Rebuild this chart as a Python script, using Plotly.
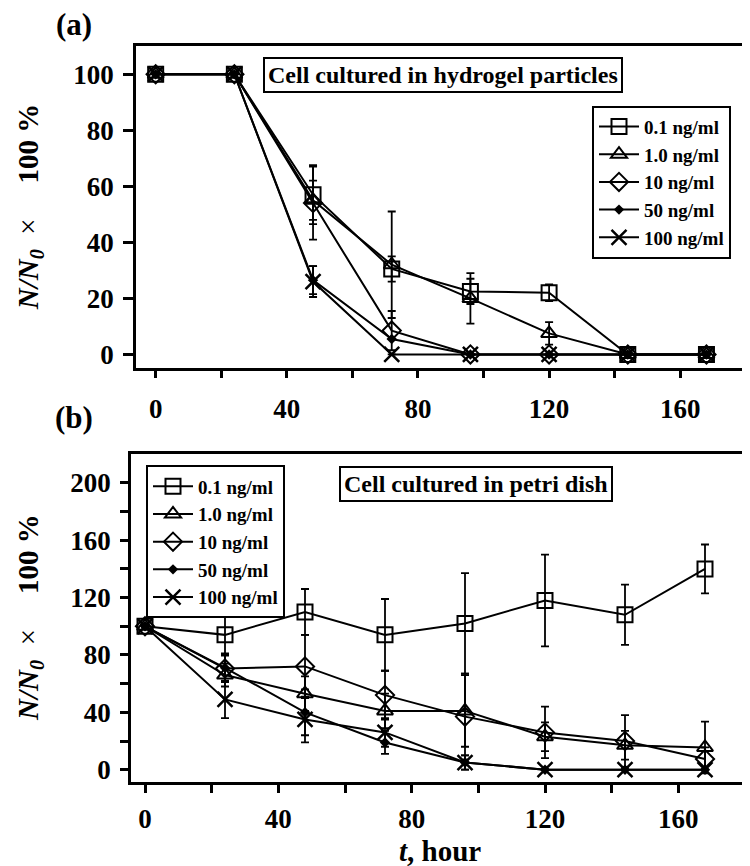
import plotly.graph_objects as go

# ---------------- data ----------------
hours = [0, 24, 48, 72, 96, 120, 144, 168]
series_names = ["0.1 ng/ml", "1.0 ng/ml", "10 ng/ml", "50 ng/ml", "100 ng/ml"]

# (a) Cell cultured in hydrogel particles
a_01 = [100, 100, 57, 30.5, 22.5, 22, 0, 0]
a_01_err = [0, 0, 10.5, 4.5, 4.5, 3, 0, 0]
a_10 = [100, 100, 55, 32, 20, 7.5, 0, 0]
a_10_err = [0, 0, 7, 19, 9, 4, 0, 0]
a_100 = [100, 100, 54, 8.5, 0, 0, 0, 0]
a_100_err = [0, 0, 13, 7, 0, 0, 0, 0]
a_500 = [100, 100, 26.5, 5.5, 0, 0, 0, 0]
a_500_err = [0, 0, 5, 0, 0, 0, 0, 0]
a_1000 = [100, 100, 26, 0, 0, 0, 0, 0]
a_1000_err = [0, 0, 5.5, 0, 0, 0, 0, 0]

# (b) Cell cultured in petri dish
b_01 = [100, 94, 110, 94, 102, 118, 108, 140]
b_01_err = [0, 14, 16, 25, 35, 32, 21, 17]
b_10 = [100, 66, 53, 41, 41, 23, 17, 15.5]
b_10_err = [0, 8, 12, 12, 25, 10, 10, 18]
b_100 = [100, 70.5, 72, 52, 37, 26, 20, 7.5]
b_100_err = [0, 9, 22, 17, 30, 18, 18, 8]
b_500 = [100, 71, 40, 19, 5, 0, 0, 0]
b_500_err = [0, 10, 16, 8, 5, 0, 0, 0]
b_1000 = [100, 49, 35, 26, 5, 0, 0, 0]
b_1000_err = [0, 13, 16, 10, 5, 0, 0, 0]

a_vals = [a_01, a_10, a_100, a_500, a_1000]
a_errs = [a_01_err, a_10_err, a_100_err, a_500_err, a_1000_err]
b_vals = [b_01, b_10, b_100, b_500, b_1000]
b_errs = [b_01_err, b_10_err, b_100_err, b_500_err, b_1000_err]

x_tickvals = list(range(0, 181, 20))
x_ticktext = [str(v) if v % 40 == 0 else "" for v in x_tickvals]
ya_tickvals = list(range(0, 101, 20))
yb_tickvals = list(range(0, 201, 20))
yb_ticktext = [str(v) if v % 40 == 0 else "" for v in yb_tickvals]

# ---------------- styles ----------------
FONT = "Liberation Serif"
markers = [
    dict(symbol="square-open", size=15, line=dict(width=2, color="black")),
    dict(symbol="triangle-up-open", size=14, line=dict(width=2, color="black")),
    dict(symbol="diamond-open", size=14, line=dict(width=2, color="black")),
    dict(symbol="diamond", size=8, line=dict(width=0, color="black")),
    dict(symbol="x-thin-open", size=15, line=dict(width=2.5, color="black")),
]

def nz(errs):
    return [e if e else None for e in errs]

fig = go.Figure()

for name, vals, errs, mk in zip(series_names, a_vals, a_errs, markers):
    fig.add_trace(go.Scatter(
        x=hours, y=vals, name=name, mode="lines+markers",
        line=dict(color="black", width=2),
        marker=dict(color="black", **mk),
        error_y=dict(type="data", array=nz(errs), visible=True, color="black",
                     thickness=1.8, width=4),
        xaxis="x", yaxis="y", legend="legend",
    ))

for name, vals, errs, mk in zip(series_names, b_vals, b_errs, markers):
    fig.add_trace(go.Scatter(
        x=hours, y=vals, name=name, mode="lines+markers",
        line=dict(color="black", width=2),
        marker=dict(color="black", **mk),
        error_y=dict(type="data", array=nz(errs), visible=True, color="black",
                     thickness=1.8, width=4),
        xaxis="x2", yaxis="y2", legend="legend2",
    ))

W, H = 750, 866
def px_x(p):
    return p / W
def px_y(p):
    return 1 - p / H

axis_common = dict(
    showline=True, linecolor="black", linewidth=2.5, mirror=True,
    ticks="outside", tickcolor="black", tickwidth=2.5,
    showgrid=False, zeroline=False,
    tickfont=dict(family=FONT, size=27, color="black", weight="bold"),
)

legend_common = dict(
    xanchor="left", yanchor="top",
    bgcolor="white", bordercolor="black", borderwidth=2,
    font=dict(family=FONT, size=19, color="black", weight="bold"),
    tracegroupgap=0, itemwidth=40,
)

fig.update_layout(
    width=W, height=H,
    margin=dict(l=0, r=0, t=0, b=0),
    paper_bgcolor="white", plot_bgcolor="white",
    font=dict(family=FONT, color="black"),
    xaxis=dict(domain=[px_x(128), px_x(746)], range=[-6, 182.5],
               tickvals=x_tickvals, ticktext=x_ticktext, ticklen=8,
               ticklabelstandoff=7, anchor="y", **axis_common),
    yaxis=dict(domain=[px_y(361), px_y(38)], range=[-4.75, 110.1],
               tickvals=ya_tickvals, ticklen=10, anchor="x",
               ticklabelstandoff=4, **axis_common),
    xaxis2=dict(domain=[px_x(123), px_x(737)], range=[-4.2, 180],
                tickvals=x_tickvals, ticktext=x_ticktext, ticklen=8,
                ticklabelstandoff=3, anchor="y2", **axis_common),
    yaxis2=dict(domain=[px_y(777), px_y(448)], range=[-8.8, 219.8],
                tickvals=yb_tickvals, ticktext=yb_ticktext, ticklen=8,
                anchor="x2", ticklabelstandoff=4, **axis_common),
    legend=dict(x=px_x(584), y=px_y(98), **legend_common),
    legend2=dict(x=px_x(138), y=px_y(459), **legend_common),
    showlegend=True,
)

def ann(text, x, y, font, **kw):
    fig.add_annotation(text=text, x=px_x(x), y=px_y(y), xref="paper", yref="paper",
                       xanchor="center", yanchor="middle", showarrow=False,
                       font=font, **kw)

ann_font = dict(family=FONT, size=24, color="black", weight="bold")
ann("Cell cultured in hydrogel particles", 435, 67, ann_font,
    bordercolor="black", borderwidth=2, borderpad=3, bgcolor="white")
ann("Cell cultured in petri dish", 468, 478, ann_font,
    bordercolor="black", borderwidth=2, borderpad=3, bgcolor="white")

label_font = dict(family=FONT, size=31, color="black", weight="bold")
ann("(a)", 66, 17, label_font)
ann("(b)", 66, 411, label_font)

ytitle = "<b><i>N/N<sub>0</sub></i></b>\u2002×\u2002\u2002\u2009<b>100 %</b>"
ytitle_font = dict(family=FONT, size=29, color="black")
ann(ytitle, 22, 200, ytitle_font, textangle=-90)
ann(ytitle, 22, 612, ytitle_font, textangle=-90)

ann("<b><i>t</i>, hour</b>", 432, 846, dict(family=FONT, size=29, color="black"))

fig.write_html("out.html")
